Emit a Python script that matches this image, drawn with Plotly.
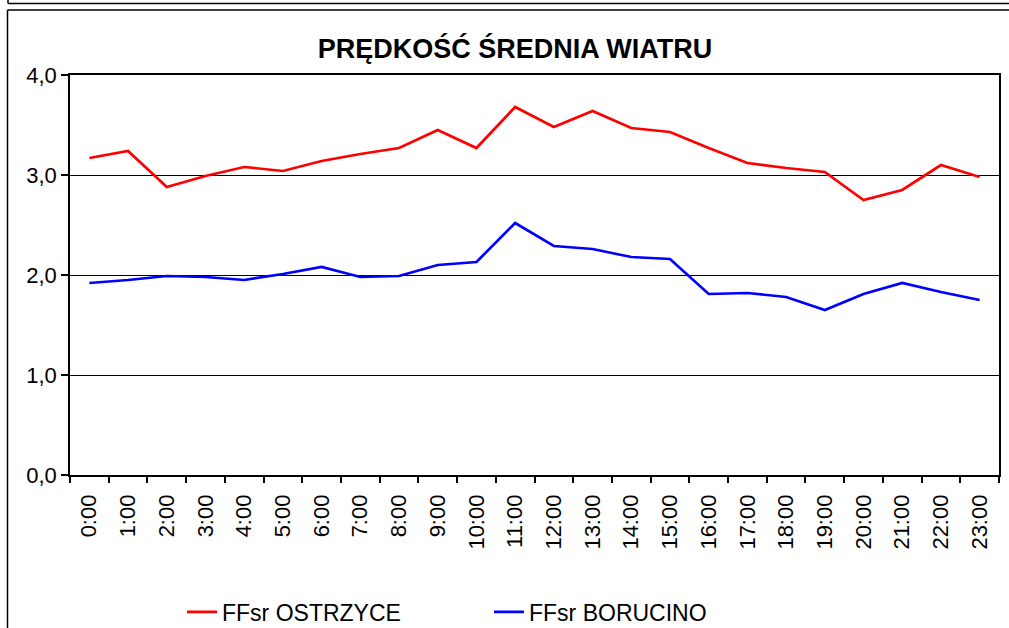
import plotly.graph_objects as go

hours = [f"{h}:00" for h in range(24)]
ostrzyce = [3.17, 3.24, 2.88, 2.99, 3.08, 3.04, 3.14, 3.21, 3.27, 3.45, 3.27, 3.68,
            3.48, 3.64, 3.47, 3.43, 3.27, 3.12, 3.07, 3.03, 2.75, 2.85, 3.10, 2.98]
borucino = [1.92, 1.95, 1.99, 1.98, 1.95, 2.01, 2.08, 1.98, 1.99, 2.10, 2.13, 2.52,
            2.29, 2.26, 2.18, 2.16, 1.81, 1.82, 1.78, 1.65, 1.81, 1.92, 1.83, 1.75]
y_ticks = [0, 1, 2, 3, 4]

FONT = "Liberation Sans, Arial, sans-serif"

fig = go.Figure()
fig.add_trace(go.Scatter(x=hours, y=ostrzyce, mode="lines", name="FFsr OSTRZYCE",
                         line=dict(color="#FF0000", width=2.7)))
fig.add_trace(go.Scatter(x=hours, y=borucino, mode="lines", name="FFsr BORUCINO",
                         line=dict(color="#0000FF", width=2.7)))

L, R, T, B = 70, 10, 75, 153
W, H = 1009, 628
pw, ph = W - L - R, H - T - B

def px_x(x):
    return (x - L) / pw

def px_y(y):
    return (H - B - y) / ph

shapes = [
    dict(type="line", xref="paper", yref="paper", x0=px_x(8), x1=px_x(1012), y0=px_y(3.5), y1=px_y(3.5),
         line=dict(color="black", width=1.5)),
    dict(type="line", xref="paper", yref="paper", x0=px_x(8), x1=px_x(8), y0=px_y(-5), y1=px_y(3.5),
         line=dict(color="black", width=1.5)),
    dict(type="line", xref="paper", yref="paper", x0=px_x(7.5), x1=px_x(1012), y0=px_y(10), y1=px_y(10),
         line=dict(color="black", width=1.5)),
    dict(type="line", xref="paper", yref="paper", x0=px_x(7.5), x1=px_x(7.5), y0=px_y(10), y1=px_y(640),
         line=dict(color="black", width=1.5)),
]

fig.update_layout(
    width=W, height=H,
    margin=dict(l=L, r=R, t=T, b=B, autoexpand=False),
    paper_bgcolor="white", plot_bgcolor="white",
    separators=", ",
    font=dict(family=FONT, color="black", size=17),
    title=dict(text="<b>PRĘDKOŚĆ ŚREDNIA WIATRU</b>", xref="container", x=515 / W, xanchor="center",
               yref="container", y=1 - 49 / H, yanchor="middle",
               font=dict(family=FONT, size=27, color="black")),
    showlegend=True,
    legend=dict(orientation="h", xref="container", x=182 / W, xanchor="left",
                yref="container", y=1 - 612 / H, yanchor="middle",
                entrywidth=262, entrywidthmode="pixels",
                font=dict(family=FONT, size=23, color="black"),
                bgcolor="rgba(0,0,0,0)", itemclick=False),
    shapes=shapes,
)

fig.update_xaxes(type="category", tickson="boundaries", ticks="outside", ticklen=6,
                 tickcolor="black", tickwidth=1.5, tickangle=-90, ticklabelstandoff=9,
                 showline=True, linecolor="black", linewidth=1.5, mirror=True,
                 showgrid=False, range=[-0.5, 23.5], automargin=False,
                 tickfont=dict(family=FONT, size=22, color="black"))
fig.update_yaxes(range=[0, 4], tickvals=y_ticks, tickformat=".1f", ticks="outside", ticklen=7,
                 tickcolor="black", tickwidth=1.5, automargin=False,
                 showline=True, linecolor="black", linewidth=1.5, mirror=True,
                 showgrid=True, gridcolor="black", gridwidth=1.2, zeroline=False,
                 tickfont=dict(family=FONT, size=22, color="black"))

fig.write_html("out.html", config={"displayModeBar": False},
               post_script="document.body.style.margin='0';")
